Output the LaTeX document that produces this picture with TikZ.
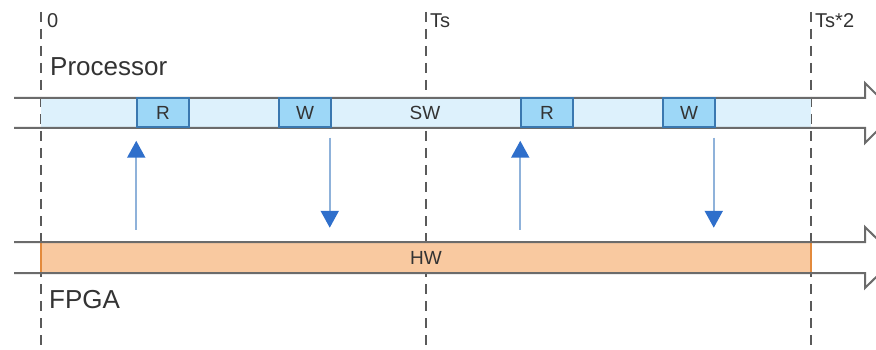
\documentclass[tikz,border=0pt]{standalone}
\usepackage{fontspec}
\setmainfont{Liberation Sans}
\usetikzlibrary{arrows.meta}
\definecolor{swfill}{HTML}{DDF1FC}
\definecolor{rwfill}{HTML}{9DD7F7}
\definecolor{rwline}{HTML}{3A78B0}
\definecolor{hwfill}{HTML}{F9C9A0}
\definecolor{hwline}{HTML}{E38A3C}
\definecolor{bandline}{HTML}{6B6B6B}
\definecolor{tickline}{HTML}{5A5A5A}
\definecolor{txt}{HTML}{333333}
\definecolor{shaft}{HTML}{8FB2DA}
\definecolor{headblue}{HTML}{2F6FCB}
\tikzset{
  timeline/.style={draw=tickline, line width=2pt, dash pattern=on 10pt off 7pt},
  ticklabel/.style={anchor=west, inner sep=0pt, text=txt, font=\fontsize{20}{20}\selectfont},
  unitlabel/.style={anchor=west, inner sep=0pt, text=txt, font=\fontsize{26}{26}\selectfont},
  bandfill/.style={inner sep=0pt, minimum width=770pt, text=txt, font=\fontsize{19}{19}\selectfont},
  band/.style={draw=bandline, line width=2pt, line join=miter},
  rwbox/.style={draw=rwline, line width=1.5pt, fill=rwfill, minimum width=52pt, minimum height=29pt,
    inner sep=0pt, text=txt, font=\fontsize{19}{19}\selectfont},
  access/.style={draw=shaft, line width=2.2pt, -{Triangle[length=17pt, width=18pt, color=headblue]}}
}
\begin{document}
\begin{tikzpicture}[x=1pt, y=-1pt]
  \clip (0,0) rectangle (876,350);
  % time marks
  \foreach \t in {41,426,811}
    \draw[timeline] (\t,12) -- (\t,350);
  \node[ticklabel] (t0) at (47,21) {0};
  \node[ticklabel] (t1) at (430,21) {Ts};
  \node[ticklabel] (t2) at (815,21) {Ts*2};
  \node[unitlabel] (proc) at (50,67) {Processor};
  \node[unitlabel] (fpga) at (49,300) {FPGA};
  % software band
  \node[bandfill, fill=swfill, minimum height=30pt] (sw) at (426,113) {};
  \node[text=txt, font=\fontsize{19}{19}\selectfont, inner sep=0pt] (swtext) at (425,113) {SW};
  \draw[band] (14,98) -- (865,98) -- (865,83) -- (895,113) -- (865,143) -- (865,128) -- (14,128);
  \node[rwbox] (r1) at (163,112.5) {R};
  \node[rwbox] (w1) at (305,112.5) {W};
  \node[rwbox] (r2) at (547,112.5) {R};
  \node[rwbox] (w2) at (689,112.5) {W};
  % hardware band
  \node[bandfill, draw=hwline, line width=1.5pt, fill=hwfill, minimum height=30pt] (hw) at (426,257.5) {HW};
  \draw[band] (14,242) -- (865,242) -- (865,227) -- (896,257.5) -- (865,288) -- (865,273) -- (14,273);
  % read / write accesses
  \coordinate (r1end) at (r1.south west |- hw.north);
  \coordinate (r2end) at (r2.south west |- hw.north);
  \coordinate (w1end) at ([xshift=-2pt]w1.south east |- hw.north);
  \coordinate (w2end) at ([xshift=-2pt]w2.south east |- hw.north);
  \draw[access] ([yshift=12pt]r1end) -- ([yshift=-13pt]r1.south west);
  \draw[access] ([yshift=12pt]r2end) -- ([yshift=-13pt]r2.south west);
  \draw[access] ([shift={(-2pt,-10pt)}]w1.south east) -- ([yshift=14pt]w1end);
  \draw[access] ([shift={(-2pt,-10pt)}]w2.south east) -- ([yshift=14pt]w2end);
\end{tikzpicture}
\end{document}
